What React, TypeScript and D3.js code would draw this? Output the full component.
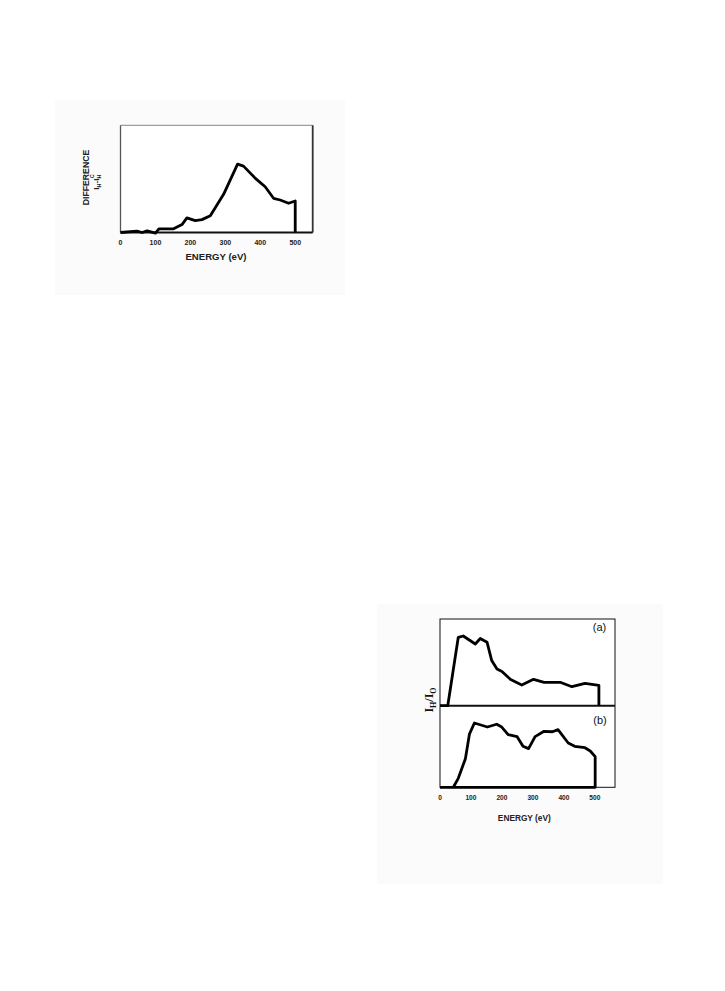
import React from "react";
import * as d3 from "d3";

// Chart 1: difference I_H - I_H^C vs energy
const diffEnergy = [0, 47, 62, 76, 100, 110, 152, 176, 190, 214, 233, 257, 295, 335, 352, 386, 414, 438, 457, 481, 500, 500];
const diffValue = [0, 1.3, 0, 1.6, -0.6, 3.4, 3.4, 7.4, 13.6, 11.1, 12.0, 15.7, 35.6, 63.8, 61.9, 50.5, 42.7, 31.9, 30.3, 27.3, 29.4, 0];

// Chart 2 panel (a)
const aEnergy = [0, 25, 59, 75, 114, 130, 152, 167, 184, 200, 228, 264, 302, 336, 390, 426, 468, 513, 513];
const aValue = [0, 0, 78.9, 80.4, 71.2, 77.5, 73.1, 52.1, 42.3, 39.4, 30.2, 23.9, 30.4, 26.8, 26.8, 21.9, 25.8, 23.5, 0];

// Chart 2 panel (b)
const bEnergy = [0, 43, 59, 82, 95, 111, 153, 183, 198, 220, 249, 268, 286, 307, 336, 363, 381, 414, 435, 468, 485, 501, 501, 0];
const bValue = [0, 0, 11.0, 35.0, 65.1, 78.8, 73.9, 77.3, 74.3, 64.6, 62.0, 50.4, 47.4, 62.1, 68.6, 68.1, 70.7, 54.3, 50.2, 48.5, 44.5, 37.5, 0, 0];

const tickValues = [0, 100, 200, 300, 400, 500];

export default function App() {
  const x1 = d3.scaleLinear().domain([0, 550]).range([120.5, 312.7]);
  const y1 = d3.scaleLinear().domain([0, 100]).range([232.5, 125.3]);
  const x2 = d3.scaleLinear().domain([0, 565]).range([440, 615]);
  const ya = d3.scaleLinear().domain([0, 100]).range([705.7, 619]);
  const yb = d3.scaleLinear().domain([0, 100]).range([787.3, 705.7]);

  const line1 = d3.line<number>().x((_, i) => x1(diffEnergy[i])).y((d) => y1(d));
  const lineA = d3.line<number>().x((_, i) => x2(aEnergy[i])).y((d) => ya(d));
  const lineB = d3.line<number>().x((_, i) => x2(bEnergy[i])).y((d) => yb(d));

  const sans = "'Liberation Sans', Arial, sans-serif";
  const serif = "'Liberation Serif', 'Times New Roman', serif";

  return (
    <svg width={725} height={991} style={{ position: "absolute", left: 0, top: 0, background: "#fff" }}>
      <rect x={0} y={0} width={725} height={991} fill="#fff" />
      <rect x={55} y={100} width={290} height={195} fill="#fbfbfb" />
      <rect x={377} y={604} width={286} height={280} fill="#fbfbfb" />

      {/* Chart 1 */}
      <rect x={x1(0)} y={y1(100)} width={x1(550) - x1(0)} height={y1(0) - y1(100)} fill="#fff" />
      <line x1={x1(0)} x2={x1(550)} y1={y1(100)} y2={y1(100)} stroke="#888" strokeWidth={1} />
      <line x1={x1(0)} x2={x1(0)} y1={y1(100)} y2={y1(0)} stroke="#555" strokeWidth={1.3} />
      <line x1={x1(550)} x2={x1(550)} y1={y1(100)} y2={y1(0)} stroke="#333" strokeWidth={1.8} />
      <line x1={x1(0)} x2={x1(550)} y1={y1(0)} y2={y1(0)} stroke="#111" strokeWidth={2} />
      <path d={line1(diffValue) || ""} fill="none" stroke="#000" strokeWidth={2.8} strokeLinejoin="round" />
      {tickValues.map((t) => (
        <text key={"t1" + t} x={x1(t)} y={244.8} fontSize={7} fontWeight="bold" fontFamily={sans} textAnchor="middle" fill="#222">
          {t}
        </text>
      ))}
      <text x={216} y={260.3} fontSize={9.6} fontWeight="bold" fontFamily={sans} textAnchor="middle" fill="#222">
        ENERGY (eV)
      </text>
      <text transform="translate(88.5,177.5) rotate(-90)" fontSize={8.7} fontWeight="bold" fontFamily={sans} textAnchor="middle" fill="#222">
        DIFFERENCE
      </text>
      <text transform="translate(98.5,182) rotate(-90)" fontSize={8} fontWeight="bold" fontFamily={sans} textAnchor="middle" fill="#222">
        I<tspan fontSize={5.5} dy={2}>H</tspan>
        <tspan dy={-2}>-I</tspan>
        <tspan fontSize={5.5} dy={2}>H</tspan>
        <tspan fontSize={5.5} dx={-3.8} dy={-7}>C</tspan>
      </text>

      {/* Chart 2 */}
      <rect x={x2(0)} y={ya(100)} width={x2(565) - x2(0)} height={yb(0) - ya(100)} fill="#fff" stroke="#111" strokeWidth={1} />
      <line x1={x2(0)} x2={x2(565)} y1={ya(0)} y2={ya(0)} stroke="#111" strokeWidth={2} />
      <path d={lineA(aValue) || ""} fill="none" stroke="#000" strokeWidth={2.8} strokeLinejoin="round" />
      <path d={lineB(bValue) || ""} fill="none" stroke="#000" strokeWidth={2.8} strokeLinejoin="round" />
      <text x={599.5} y={631} fontSize={11} fontFamily={sans} textAnchor="middle" fill="#111">(a)</text>
      <text x={600} y={724} fontSize={11} fontFamily={sans} textAnchor="middle" fill="#111">(b)</text>
      {tickValues.map((t) => (
        <text key={"t2" + t} x={x2(t)} y={800.2} fontSize={6.6} fontWeight="bold" fontFamily={sans} textAnchor="middle" fill="#222">
          {t}
        </text>
      ))}
      <text x={524.3} y={821} fontSize={8.3} fontWeight="bold" fontFamily={sans} textAnchor="middle" fill="#222">
        ENERGY (eV)
      </text>
      <text transform="translate(433,700) rotate(-90)" fontSize={12} fontWeight="bold" fontFamily={serif} textAnchor="middle" fill="#111">
        I<tspan fontSize={8} dy={2.5}>H</tspan>
        <tspan dy={-2.5}>/I</tspan>
        <tspan fontSize={8} dy={2.5}>O</tspan>
      </text>
    </svg>
  );
}
